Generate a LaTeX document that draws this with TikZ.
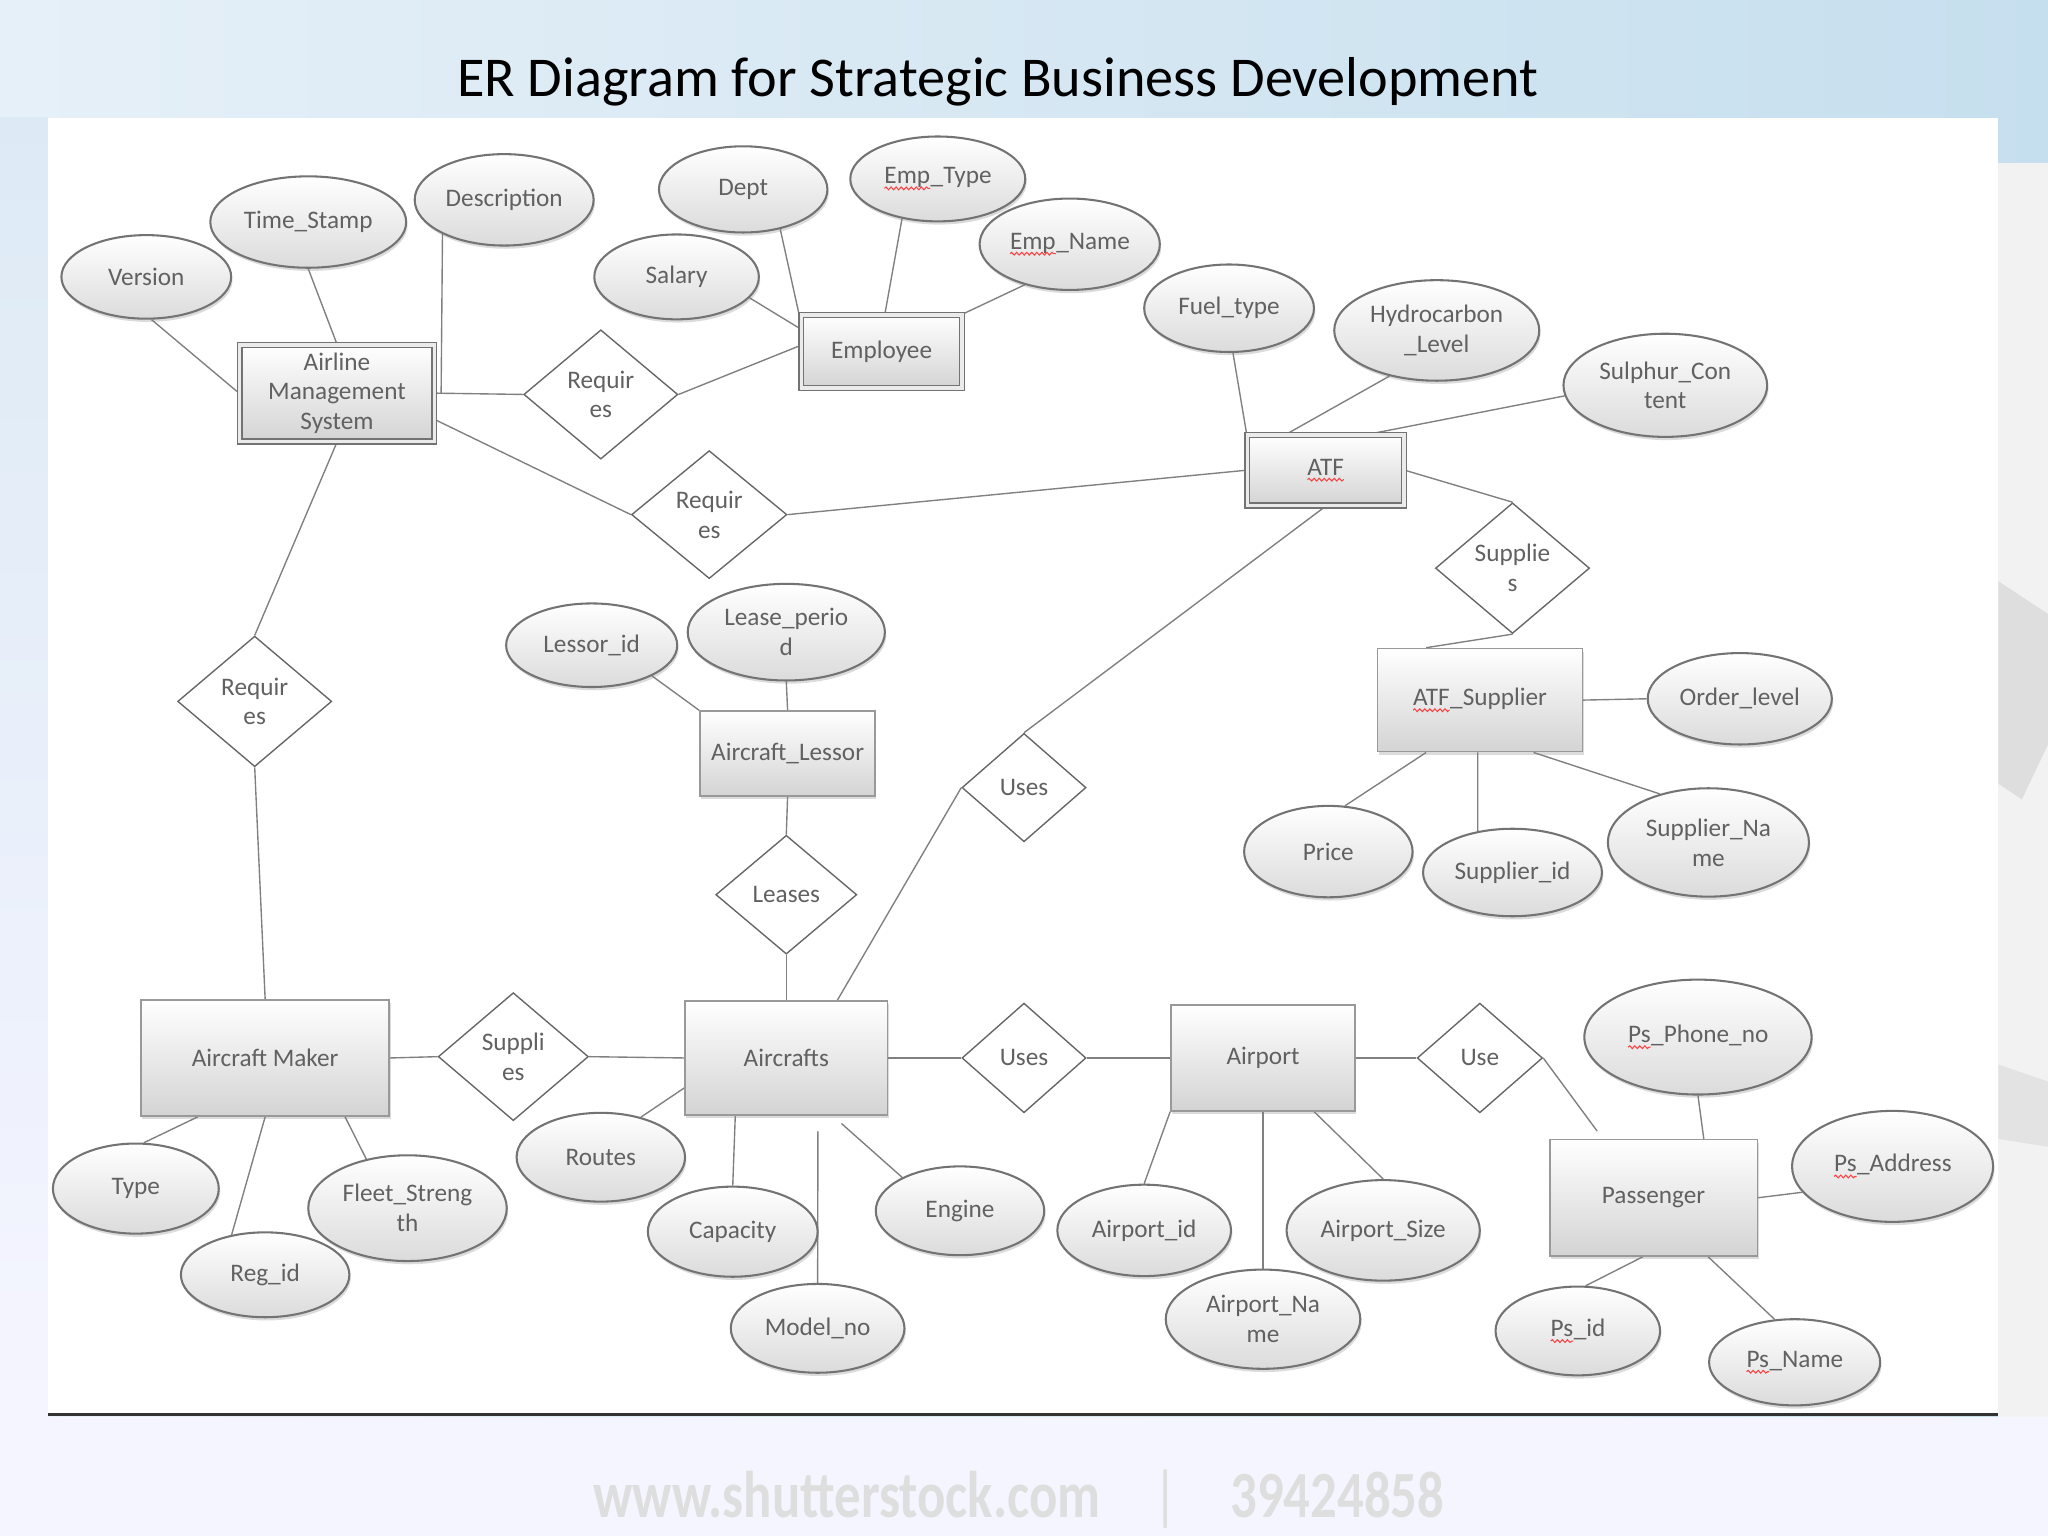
\documentclass[tikz,border=0pt]{standalone}
\usepackage{fontspec}
\setmainfont{Carlito}
\usetikzlibrary{shapes.geometric,shadows,calc,decorations.pathmorphing}
\definecolor{txtc}{rgb}{0.38,0.38,0.38}
\definecolor{bgL}{RGB}{230,240,248}
\definecolor{bgR}{RGB}{198,223,238}
\definecolor{bgS}{RGB}{221,234,245}
\newcommand{\redsq}[1]{\tikz[baseline=(sqt.base), x=1cm, y=1cm]{\node[shape=rectangle, inner sep=0pt, outer sep=0pt, minimum width=0pt, minimum height=0pt, text=txtc, font=\fontsize{11}{13}\selectfont] (sqt) {#1}; \draw[red!75, line width=0.45pt, decorate, decoration={snake, amplitude=0.6pt, segment length=2.2pt}] ([yshift=-2pt]sqt.base west) -- ([yshift=-2pt]sqt.base east);}}
\pgfdeclarelayer{bg}
\pgfdeclarelayer{links}
\pgfsetlayers{bg,links,main}
\tikzset{
  base/.style={font=\fontsize{11}{13}\selectfont, text=txtc, align=center, inner sep=0pt},
  shad/.style={drop shadow={shadow xshift=0.6pt, shadow yshift=-1.4pt, opacity=0.28}},
  attr/.style 2 args={base, ellipse, draw=black!55, line width=0.9pt, top color=white, bottom color=black!14, shad, minimum width=#1, minimum height=#2},
  ent/.style 2 args={base, rectangle, draw=black!40, line width=0.7pt, top color=white, bottom color=black!17, shad, minimum width=#1, minimum height=#2},
  went/.style 2 args={ent={#1}{#2}, draw=black!55, line width=0.6pt, double=black!8, double distance=1.5pt},
  rel/.style 2 args={base, diamond, aspect=1.2, draw=black!60, line width=0.6pt, fill=white, minimum width=#1, minimum height=#2},
  link/.style={draw=black!50, line width=0.6pt}
}
\begin{document}
\begin{tikzpicture}[x=0.02cm, y=-0.02cm]
\useasboundingbox (0,0) rectangle (1568,1176);
\begin{pgfonlayer}{bg}
  \shade[left color=bgL, right color=bgR] (0,0) rectangle (1568,1176);
  \shade[top color=bgS, bottom color=white!96!blue] (0,90) rectangle (37,1085);
  \fill[white!95!black] (1530,125) rectangle (1568,1176);
  \fill[black!16, opacity=0.7] (1530,445) -- (1568,470) -- (1568,570) -- (1548,612) -- (1530,600) -- cycle;
  \fill[black!13, opacity=0.7] (1530,815) -- (1568,828) -- (1568,878) -- (1530,872) -- cycle;
  \fill[white!96!blue] (0,1085) rectangle (1568,1176);
  \fill[white] (37,90) rectangle (1530,1083);
  \draw[black!80, line width=1.6pt] (37,1083) -- (1530,1083);
\end{pgfonlayer}

\node[font=\fontsize{24.5}{28}\selectfont, text=black, inner sep=0pt] (title) at (764,63) {ER Diagram for Strategic Business Development};
\node[font=\bfseries\fontsize{23}{23}\selectfont, text=black!13, inner sep=0pt] (wm) at (780,1148) {\scalebox{1}[1.25]{www.shutterstock.com\quad{\mdseries|}\quad39424858}};

% entities
\node[went={2.98cm}{1.48cm}] (ams) at (258,301) {Airline\\Management\\System};
\node[went={2.46cm}{1.12cm}] (emp) at (675,269) {Employee};
\node[went={2.4cm}{1.08cm}] (atf) at (1015,360) {\redsq{ATF}};
\node[ent={2.68cm}{1.3cm}] (al) at (603,577) {Aircraft\_Lessor};
\node[ent={3.14cm}{1.58cm}] (sup) at (1133,536) {\redsq{ATF}\_Supplier};
\node[ent={3.8cm}{1.78cm}] (am) at (203,810) {Aircraft Maker};
\node[ent={3.1cm}{1.74cm}] (ac) at (602,810) {Aircrafts};
\node[ent={2.82cm}{1.62cm}] (ap) at (967,810) {Airport};
\node[ent={3.18cm}{1.78cm}] (pas) at (1266,917) {Passenger};

% relationships
\node[rel={2.36cm}{1.98cm}] (r1) at (460,302) {Requir\\es};
\node[rel={2.38cm}{1.96cm}] (r2) at (543,394) {Requir\\es};
\node[rel={2.36cm}{2.0cm}] (r3) at (195,537) {Requir\\es};
\node[rel={2.36cm}{2.0cm}] (r4) at (1158,435) {Supplie\\s};
\node[rel={1.9cm}{1.66cm}] (r5) at (784,603) {Uses};
\node[rel={2.16cm}{1.82cm}] (r6) at (602,685) {Leases};
\node[rel={2.3cm}{1.96cm}] (r7) at (393,809) {Suppli\\es};
\node[rel={1.9cm}{1.68cm}] (r8) at (784,810) {Uses};
\node[rel={1.92cm}{1.68cm}] (r9) at (1133,810) {Use};

% attributes
\node[attr={2.6cm}{1.28cm}] (ver) at (112,212) {Version};
\node[attr={3.0cm}{1.4cm}] (ts) at (236,170) {Time\_Stamp};
\node[attr={2.74cm}{1.4cm}] (desc) at (386,153) {Description};
\node[attr={2.58cm}{1.32cm}] (dept) at (569,145) {Dept};
\node[attr={2.68cm}{1.3cm}] (et) at (718,137) {\redsq{Emp}\_Type};
\node[attr={2.76cm}{1.4cm}] (en) at (819,187) {\redsq{Emp}\_Name};
\node[attr={2.52cm}{1.3cm}] (sal) at (518,212) {Salary};
\node[attr={2.6cm}{1.34cm}] (ft) at (941,236) {Fuel\_type};
\node[attr={3.14cm}{1.54cm}] (hc) at (1100,253) {Hydrocarbon\\\_Level};
\node[attr={3.12cm}{1.58cm}] (sc) at (1275,295) {Sulphur\_Con\\tent};
\node[attr={2.62cm}{1.28cm}] (li) at (453,494) {Lessor\_id};
\node[attr={3.02cm}{1.48cm}] (lp) at (602,484) {Lease\_perio\\d};
\node[attr={2.82cm}{1.4cm}] (ol) at (1332,535) {Order\_level};
\node[attr={2.58cm}{1.4cm}] (pr) at (1017,652) {Price};
\node[attr={2.74cm}{1.34cm}] (sid) at (1158,668) {Supplier\_id};
\node[attr={3.08cm}{1.66cm}] (sn) at (1308,645) {Supplier\_Na\\me};
\node[attr={2.54cm}{1.38cm}] (ty) at (104,910) {Type};
\node[attr={2.58cm}{1.3cm}] (rid) at (203,976) {Reg\_id};
\node[attr={3.04cm}{1.62cm}] (fs) at (312,925) {Fleet\_Streng\\th};
\node[attr={2.58cm}{1.36cm}] (rt) at (460,886) {Routes};
\node[attr={2.6cm}{1.38cm}] (cap) at (561,943) {Capacity};
\node[attr={2.66cm}{1.36cm}] (mn) at (626,1017) {Model\_no};
\node[attr={2.58cm}{1.36cm}] (eng) at (735,927) {Engine};
\node[attr={2.66cm}{1.4cm}] (aid) at (876,942) {Airport\_id};
\node[attr={2.98cm}{1.52cm}] (aname) at (967,1010) {Airport\_Na\\me};
\node[attr={2.96cm}{1.54cm}] (asize) at (1059,942) {Airport\_Size};
\node[attr={3.48cm}{1.76cm}] (ppn) at (1300,794) {\redsq{Ps}\_Phone\_no};
\node[attr={3.08cm}{1.7cm}] (pad) at (1449,893) {\redsq{Ps}\_Address};
\node[attr={2.52cm}{1.36cm}] (pid) at (1208,1019) {\redsq{Ps}\_id};
\node[attr={2.62cm}{1.32cm}] (pnm) at (1374,1043) {\redsq{Ps}\_Name};

\begin{pgfonlayer}{links}
\draw[link] (ver.-83) -- (ams.west);
\draw[link] (ts.south) -- (ams.north);
\draw[link] (desc.209) -- ($(ams.east)!0.07!(r1.west)$);
\draw[link] (ams.east) -- (r1.west);
\draw[link] (r1.east) -- ($(emp.north west)!0.42!(emp.south west)$);
\draw[link] ($(ams.north east)!0.77!(ams.south east)$) -- (r2.west);
\draw[link] (r2.east) -- (atf.west);
\draw[link] (sal.-16) -- ($(emp.north west)!0.2!(emp.south west)$);
\draw[link] (dept.-47) -- ($(emp.north west)!0.1!(emp.south west)$);
\draw[link] (et.228) -- ($(emp.north west)!0.52!(emp.north east)$);
\draw[link] (en.222) -- (emp.north east);
\draw[link] (ft.-85) -- (atf.north west);
\draw[link] (hc.224) -- ($(atf.north west)!0.25!(atf.north east)$);
\draw[link] (sc.186) -- ($(atf.north west)!0.77!(atf.north east)$);
\draw[link] (atf.east) -- (r4.north);
\draw[link] (r4.south) -- ($(sup.north west)!0.24!(sup.north east)$);
\draw[link] (atf.south) -- (r5.north);
\draw[link] (r5.west) -- ($(ac.north west)!0.75!(ac.north east)$);
\draw[link] (li.-27) -- (al.north west);
\draw[link] (lp.south) -- (al.north);
\draw[link] (al.south) -- (r6.north);
\draw[link] (r6.south) -- (ac.north);
\draw[link] (ams.south) -- (r3.north);
\draw[link] (r3.south) -- (am.north);
\draw[link] (am.east) -- (r7.west);
\draw[link] (r7.east) -- (ac.west);
\draw[link] (ac.east) -- (r8.west);
\draw[link] (r8.east) -- (ap.west);
\draw[link] (ap.east) -- (r9.west);
\draw[link] (r9.east) -- ($(pas.north west)!0.23!(pas.north east)+(0,-6)$);
\draw[link] (sup.east) -- (ol.west);
\draw[link] ($(sup.south west)!0.24!(sup.south east)$) -- (pr.70);
\draw[link] ($(sup.south west)!0.49!(sup.south east)$) -- (sid.130);
\draw[link] ($(sup.south west)!0.76!(sup.south east)$) -- (sn.135);
\draw[link] ($(am.south west)!0.23!(am.south east)$) -- (ty.80);
\draw[link] (am.south) -- (rid.130);
\draw[link] ($(am.south west)!0.82!(am.south east)$) -- (fs.130);
\draw[link] ($(ac.north west)!0.76!(ac.south west)$) -- (rt.45);
\draw[link] ($(ac.south west)!0.25!(ac.south east)$) -- (cap.north);
\draw[link] ($(ac.south west)!0.655!(ac.south east)+(0,12)$) -- (mn.north);
\draw[link] ($(ac.south west)!0.77!(ac.south east)+(0,6)$) -- (eng.150);
\draw[link] (ap.south west) -- (aid.north);
\draw[link] (ap.south) -- (aname.north);
\draw[link] ($(ap.south west)!0.775!(ap.south east)$) -- (asize.north);
\draw[link] (ppn.south) -- ($(pas.north west)!0.74!(pas.north east)$);
\draw[link] (pas.east) -- (pad.196);
\draw[link] ($(pas.south west)!0.45!(pas.south east)$) -- (pid.80);
\draw[link] ($(pas.south west)!0.76!(pas.south east)$) -- (pnm.115);
\end{pgfonlayer}
\end{tikzpicture}
\end{document}
